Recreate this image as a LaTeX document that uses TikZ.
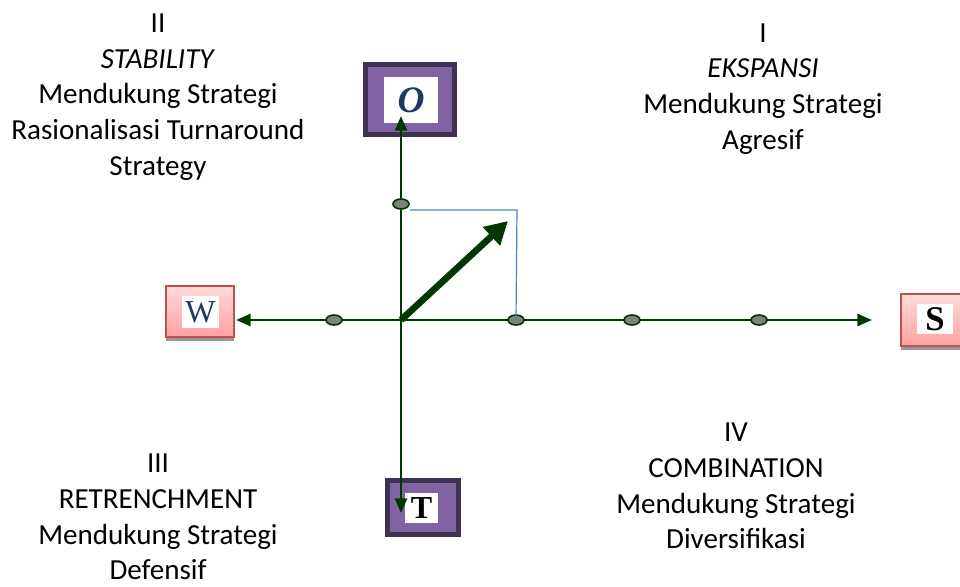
\documentclass[tikz,border=0pt]{standalone}
\usepackage{fontspec}
\setmainfont{Carlito}
\newfontfamily\letterfont{Liberation Serif}
\usepackage{tikz}
\usetikzlibrary{arrows,arrows.meta,positioning,shapes,shapes.geometric,shadows}

\definecolor{axisGreen}{RGB}{0,56,0}
\definecolor{boxBorder}{RGB}{63,49,81}
\definecolor{boxPurple}{RGB}{128,100,162}
\definecolor{redBorder}{RGB}{192,80,77}
\definecolor{pinkTop}{RGB}{255,218,218}
\definecolor{pinkBottom}{RGB}{255,160,160}
\definecolor{letterBlue}{RGB}{31,56,100}
\definecolor{lineBlue}{RGB}{79,129,189}

\begin{document}
\begin{tikzpicture}[x=0.75pt, y=-0.75pt, >={Triangle[length=11pt,width=9pt]}, thick, inner sep=0pt, font=\fontsize{21.8}{26.8}\selectfont]
			\tikzset{purplebox/.style={draw=boxBorder,line width=3.75pt,fill=boxPurple}}
			\tikzset{pinkbox/.style={draw=redBorder,line width=1.5pt,top color=pinkTop,bottom color=pinkBottom,
				drop shadow={shadow xshift=0pt,shadow yshift=-3pt,fill=black!40,opacity=1}}}
			\tikzset{letter/.style={fill=white,inner sep=0pt,font=\letterfont\fontsize{24}{24}\selectfont}}
			\tikzset{axis/.style={<->,draw=axisGreen,line width=2pt}}
			\tikzset{dot/.style={ellipse,draw=axisGreen,line width=1.2pt,fill=black!50,minimum width=12pt,minimum height=7.5pt,inner sep=0pt}}
			\tikzset{quadtext/.style={align=center,text=black}}
			% Colors: axisGreen, boxPurple, redBorder, lineBlue...

			\useasboundingbox (0,0) rectangle (960,586);

			% Quadrant texts
			\node[quadtext] (q2) at (158,97) {II\\\textit{STABILITY}\\Mendukung Strategi\\Rasionalisasi Turnaround\\Strategy};
			\node[quadtext] (q1) at (763,89) {I\\\textit{EKSPANSI}\\Mendukung Strategi\\Agresif};
			\node[quadtext] (q3) at (158,517) {III\\RETRENCHMENT\\Mendukung Strategi\\Defensif};
			\node[quadtext] (q4) at (736,486) {IV\\COMBINATION\\Mendukung Strategi\\Diversifikasi};

			% Boxes
			\node[purplebox, minimum width=66.75pt, minimum height=52.5pt] (oBox) at (410,99.5) {};
			\node[letter, minimum width=40.5pt, minimum height=34.5pt, text=letterBlue, font=\letterfont\fontsize{28}{28}\selectfont\bfseries\itshape] (O) at (411,100) {O};
			\node[purplebox, minimum width=53.25pt, minimum height=40.5pt] (tBox) at (423,507.5) {};
			\node[letter, minimum width=24.75pt, minimum height=22.5pt, font=\letterfont\fontsize{24}{24}\selectfont\bfseries] (T) at (421.5,508) {T};
			\node[pinkbox, minimum width=51pt, minimum height=38.25pt] (wBox) at (200,311.5) {};
			\node[letter, minimum width=27.75pt, minimum height=24pt, text=letterBlue] (W) at (200.5,312) {W};
			\node[pinkbox, minimum width=51pt, minimum height=39pt] (sBox) at (935,320) {};
			\node[letter, minimum width=27pt, minimum height=22.5pt, font=\letterfont\fontsize{26}{26}\selectfont\bfseries] (S) at (935,319) {S};

			% Axes
			\coordinate (c) at (401,320);
			\coordinate (wTip) at (236,320);
			\coordinate (sTip) at (872,320);
			\coordinate (oTip) at (401,116);
			\coordinate (tTip) at (401,513);
			\draw[axis] (wTip) -- (sTip);
			\draw[axis] (oTip) -- (tTip);

			% Scale points
			\node[dot] (h1) at (334,320) {};
			\node[dot] (h2) at (516,320) {};
			\node[dot] (h3) at (632,320) {};
			\node[dot] (h4) at (759,320) {};
			\node[dot] (v1) at (401,204) {};

			% Position
			\coordinate (b1) at (410,210);
			\coordinate (b2) at (517,210);
			\draw[lineBlue, line width=0.9pt] (b1) -- (b2) -- (h2.center);
			\coordinate (pos) at (508,221);
			\draw[-{Triangle[length=17pt,width=18pt]}, draw=axisGreen, fill=axisGreen, line width=5pt] (c) -- (pos);
	\end{tikzpicture}
\end{document}
